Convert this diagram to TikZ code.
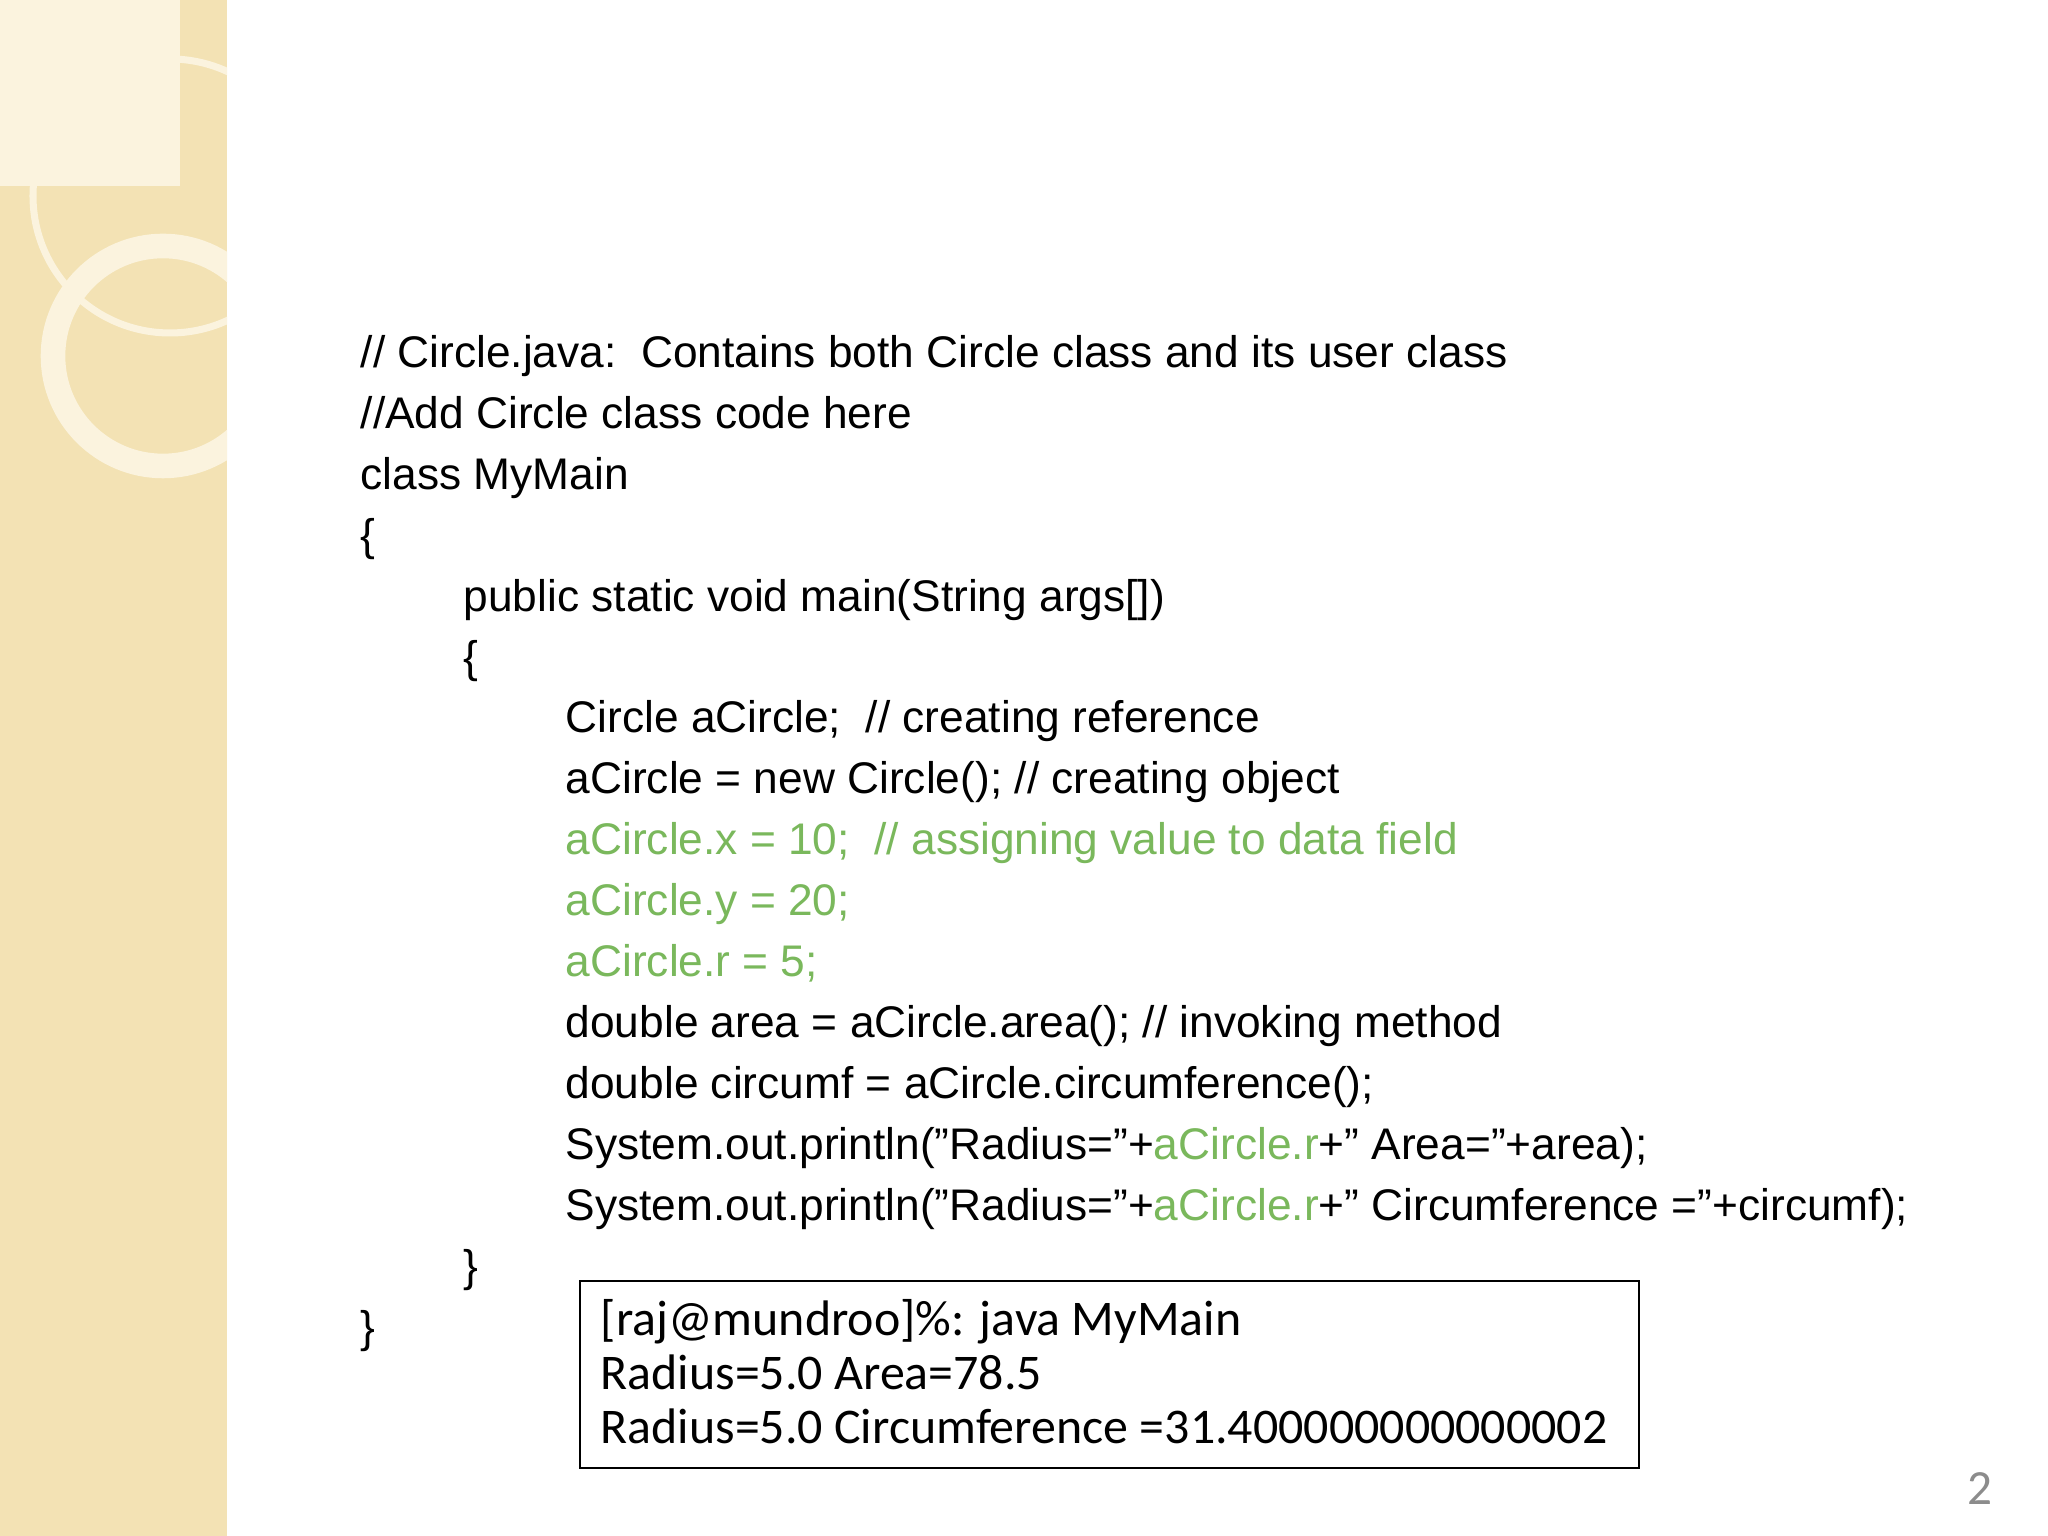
\documentclass[tikz,border=0pt]{standalone}
\usepackage{fontspec}
\setmainfont{Liberation Sans}
\newfontfamily\boxfont{Carlito}
\usepackage{xcolor}
\definecolor{band}{HTML}{F3E2B4}
\definecolor{codegreen}{HTML}{7AB85C}
\definecolor{ringc}{HTML}{FBF3DE}
\tikzset{
	code/.style={anchor=base west, inner sep=0pt, font=\fontsize{12.6}{14}\selectfont},
	outline/.style={anchor=base west, inner sep=0pt, font=\boxfont\fontsize{14.2}{16}\selectfont}
}
\begin{document}
\begin{tikzpicture}
\useasboundingbox (0,0) rectangle (20.48,15.36);
\fill[white] (0,0) rectangle (20.48,15.36);
% side band
\fill[band] (0,0) rectangle (2.27,15.36);
\begin{scope}
\clip (0,0) rectangle (2.27,15.36);
\fill[ringc] (0,13.5) rectangle (1.8,15.36);
\draw[ringc, line width=2pt] (1.7,13.4) circle (1.37);
\draw[ringc, line width=7pt] (1.63,11.8) circle (1.1);
\end{scope}
% code
\node[code] (l1) at (3.6,11.68) {// Circle.java:\ \ Contains both Circle class and its user class};
\node[code] (l2) at (3.6,11.07) {//Add Circle class code here};
\node[code] (l3) at (3.6,10.46) {class MyMain};
\node[code] (l4) at (3.6,9.85) {\{};
\node[code] (l5) at (4.63,9.24) {public static void main(String args[])};
\node[code] (l6) at (4.63,8.63) {\{};
\node[code] (l7) at (5.65,8.03) {Circle aCircle;\ \ // creating reference};
\node[code] (l8) at (5.65,7.42) {aCircle = new Circle(); // creating object};
\node[code, text=codegreen] (l9) at (5.65,6.81) {aCircle.x = 10;\ \ // assigning value to data field};
\node[code, text=codegreen] (l10) at (5.65,6.20) {aCircle.y = 20;};
\node[code, text=codegreen] (l11) at (5.65,5.59) {aCircle.r = 5;};
\node[code] (l12) at (5.65,4.98) {double area = aCircle.area(); // invoking method};
\node[code] (l13) at (5.65,4.37) {double circumf = aCircle.circumference();};
\node[code] (l14) at (5.65,3.76) {System.out.println("Radius="+\textcolor{codegreen}{aCircle.r}+" Area="+area);};
\node[code] (l15) at (5.65,3.15) {System.out.println("Radius="+\textcolor{codegreen}{aCircle.r}+" Circumference ="+circumf);};
\node[code] (l16) at (4.63,2.54) {\}};
\node[code] (l17) at (3.6,1.93) {\}};
% output box
\draw[line width=0.8pt] (5.80,0.68) rectangle (16.39,2.55);
\node[outline] (o1) at (6.0,2.0) {[raj@mundroo]\%: java MyMain};
\node[outline] (o2) at (6.0,1.46) {Radius=5.0 Area=78.5};
\node[outline] (o3) at (6.0,0.92) {Radius=5.0 Circumference =31.400000000000002};
\node[anchor=center, text=black!45, font=\boxfont\fontsize{14}{16}\selectfont] (pg) at (19.8,0.47) {2};
\end{tikzpicture}
\end{document}
